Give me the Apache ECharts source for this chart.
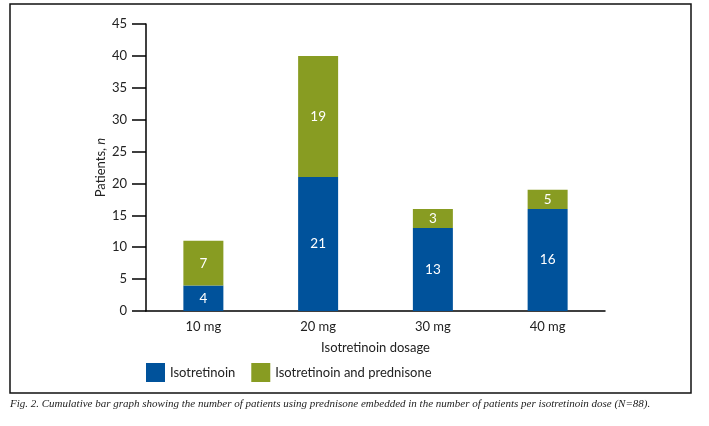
<!DOCTYPE html>
<html>
<head>
<meta charset="utf-8">
<script src="https://cdn.jsdelivr.net/npm/echarts@6/dist/echarts.min.js"></script>
<style>
  html, body { margin: 0; padding: 0; background: #fff; }
  #main { width: 709px; height: 426px; }
</style>
</head>
<body>
<div id="main"></div>
<script>
// data
let doses = ['10 mg', '20 mg', '30 mg', '40 mg']
let isoOnly = [4, 21, 13, 16]
// drawn heights of the green segments (40 mg segment is drawn ~3 tall)
let isoPred = [7, 19, 3, 3]
// numbers printed on the green segments
let isoPredLabels = [7, 19, 3, 5]
let yTicks = [0, 45, 5] // min, max, step

let font = 'Lato'
let blue = '#00529b'
let green = '#889c22'

let chart = echarts.init(document.getElementById('main'))

let labelStyle = {
  show: true,
  position: 'inside',
  color: '#fff',
  fontFamily: font,
  fontSize: 13.5
}

let option = {
  animation: false,
  backgroundColor: '#fff',
  textStyle: { fontFamily: font },
  grid: { left: 146, right: 104, top: 24, bottom: 115 },
  legend: {
    left: 141,
    top: 358,
    itemWidth: 19,
    itemHeight: 19,
    itemGap: 16,
    icon: 'rect',
    textStyle: { fontFamily: font, fontSize: 13, color: '#222' },
    data: ['Isotretinoin', 'Isotretinoin and prednisone']
  },
  xAxis: {
    type: 'category',
    data: doses,
    name: 'Isotretinoin dosage',
    nameLocation: 'middle',
    nameGap: 30,
    nameTextStyle: { fontFamily: font, fontSize: 13, color: '#222' },
    axisLine: { lineStyle: { color: '#000', width: 1.5 } },
    axisTick: { show: false },
    axisLabel: { color: '#222', fontSize: 13, fontFamily: font, margin: 9 }
  },
  yAxis: {
    type: 'value',
    min: yTicks[0],
    max: yTicks[1],
    interval: yTicks[2],
    name: '{a|Patients, }{b|n}',
    nameLocation: 'middle',
    nameGap: 39,
    nameMoveOverlap: false,
    nameRotate: 90,
    nameTextStyle: {
      rich: {
        a: { fontFamily: font, fontSize: 13, color: '#222' },
        b: { fontFamily: font, fontSize: 13, color: '#222', fontStyle: 'italic' }
      }
    },
    axisLine: { show: true, lineStyle: { color: '#000', width: 1.5 } },
    axisTick: { show: true, length: 14, lineStyle: { color: '#000', width: 1.5 } },
    axisLabel: { color: '#222', fontSize: 13, fontFamily: font, margin: 19 },
    splitLine: { show: false }
  },
  series: [
    {
      name: 'Isotretinoin',
      type: 'bar',
      stack: 'total',
      data: isoOnly,
      barWidth: 40,
      itemStyle: { color: blue },
      label: labelStyle
    },
    {
      name: 'Isotretinoin and prednisone',
      type: 'bar',
      stack: 'total',
      data: isoPred,
      barWidth: 40,
      itemStyle: { color: green },
      label: Object.assign({}, labelStyle, {
        formatter: p => String(isoPredLabels[p.dataIndex])
      })
    }
  ],
  graphic: [
    {
      type: 'rect',
      shape: { x: 10, y: 4, width: 681, height: 389 },
      style: { fill: 'none', stroke: '#111', lineWidth: 1.5 },
      silent: true
    },
    {
      type: 'text',
      left: 10,
      top: 399,
      style: {
        text: 'Fig. 2. Cumulative bar graph showing the number of patients using prednisone embedded in the number of patients per isotretinoin dose (N=88).',
        font: 'italic 11px "Liberation Serif"',
        fill: '#222'
      }
    }
  ]
}

chart.setOption(option)
</script>
</body>
</html>
